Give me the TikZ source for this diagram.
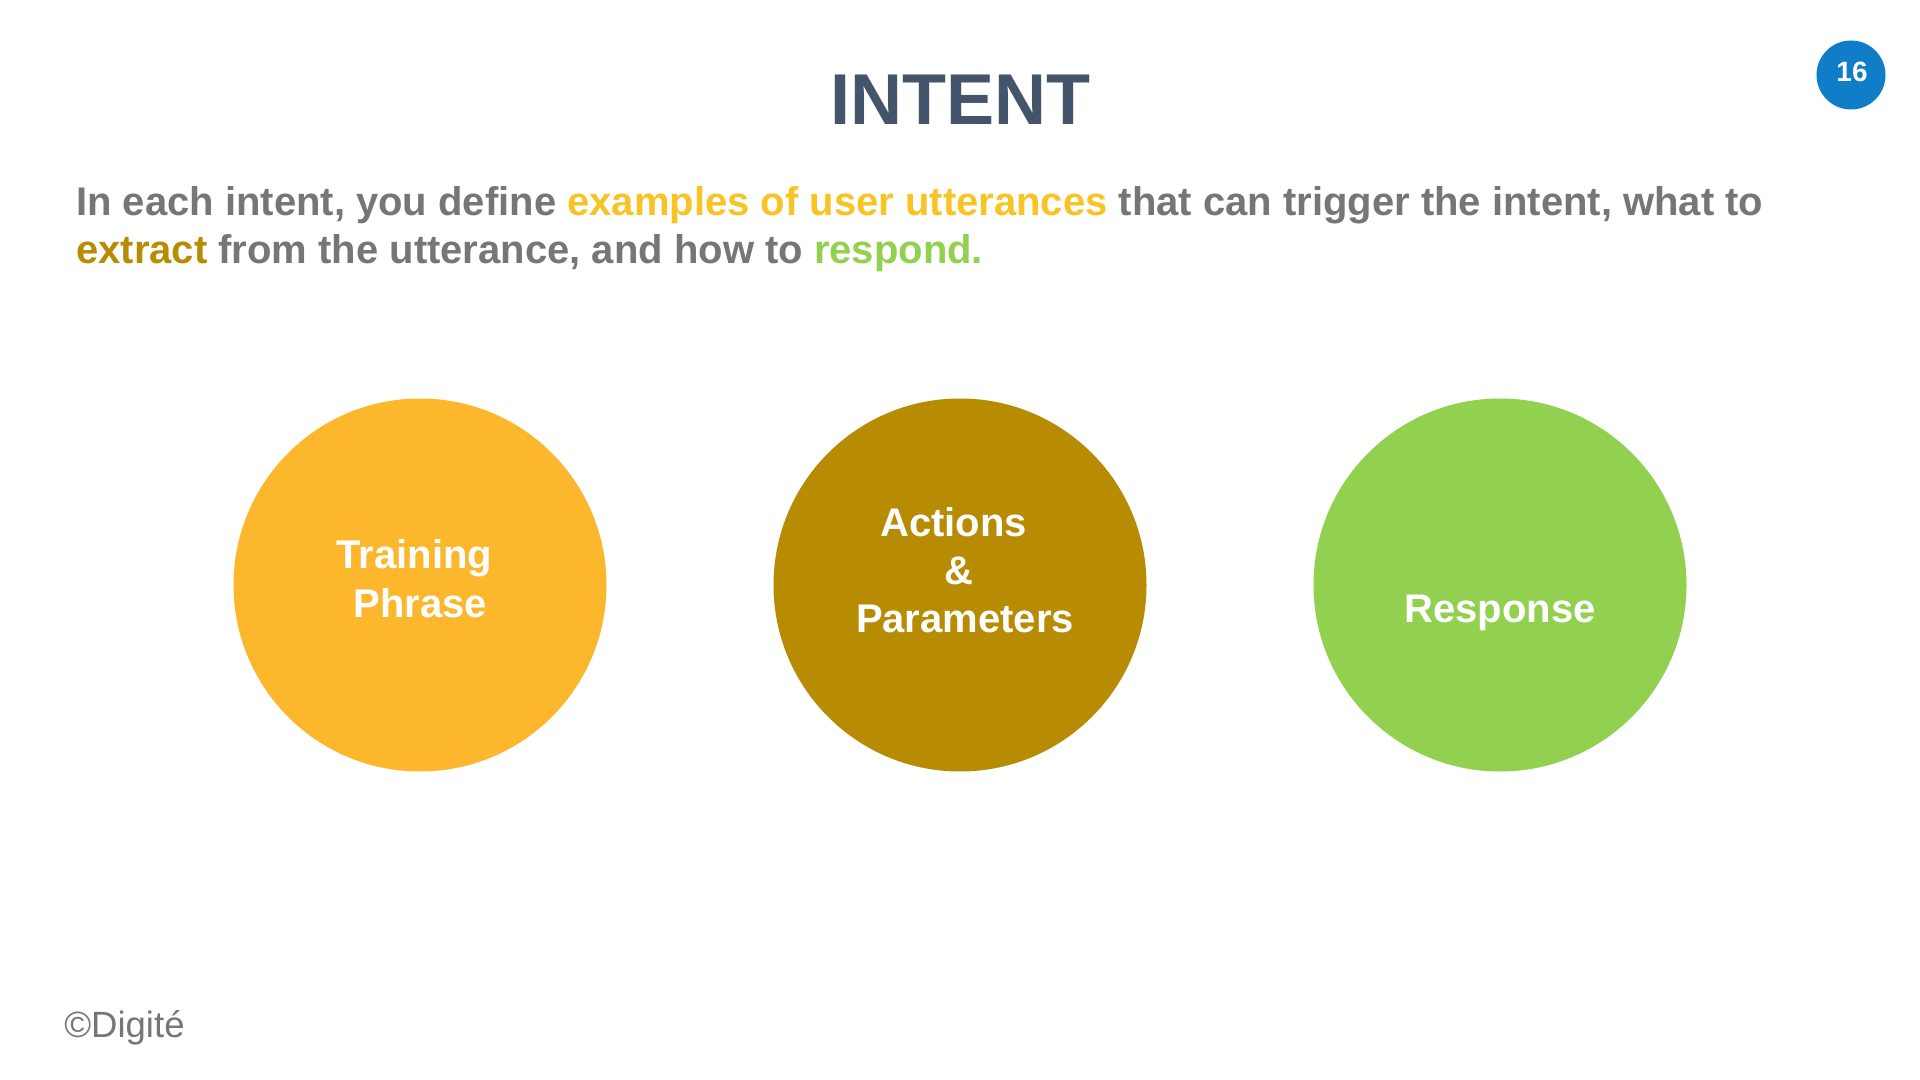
\documentclass[tikz,border=0pt]{standalone}
\usepackage{fontspec}
\setmainfont{Liberation Sans}
\definecolor{titlec}{HTML}{44546A}
\definecolor{greyt}{HTML}{767676}
\definecolor{yellowt}{HTML}{F7C325}
\definecolor{oranget}{HTML}{FDB72D}
\definecolor{brownc}{HTML}{B78B02}
\definecolor{greenc}{HTML}{92D050}
\definecolor{badge}{HTML}{0F7DC8}
\tikzset{x=0.75pt,y=-0.75pt,
  bigc/.style={circle,inner sep=0pt,minimum size=373pt*0.75},
  clab/.style={text=white,font=\fontsize{30}{36}\selectfont\bfseries,align=center,inner sep=0pt,anchor=center},
  bodyl/.style={anchor=base west,inner sep=0pt,font=\fontsize{30}{36}\selectfont\bfseries,text=greyt}
}
\begin{document}
\begin{tikzpicture}
\useasboundingbox (0,0) rectangle (1920,1080);
\fill[white] (0,0) rectangle (1920,1080);
\node[anchor=center,inner sep=0pt,text=titlec,font=\fontsize{54}{60}\selectfont\bfseries] (title) at (960,100) {INTENT};
\node[bodyl] (l1) at (76,215.5) {In each intent, you define \textcolor{yellowt}{examples of user utterances} that can trigger the intent, what to};
\node[bodyl] (l2) at (76,263.5) {\textcolor{brownc}{extract} from the utterance, and how to \textcolor{greenc}{respond.}};
\node[bigc,fill=oranget] (c1) at (420,585) {};
\node[bigc,fill=brownc] (c2) at (960,585) {};
\node[bigc,fill=greenc] (c3) at (1500,585) {};
\node[clab] (t1a) at (414.5,558.5) {Training};
\node[clab] (t1b) at (420.5,603) {Phrase};
\node[clab] (t2a) at (953.5,522) {Actions};
\node[clab] (t2b) at (959,570.5) {\&};
\node[clab] (t2c) at (965,619) {Parameters};
\node[clab] (t3) at (1500,613) {Response};
\node[circle,fill=badge,inner sep=0pt,minimum size=69pt*0.75] (b) at (1851,75) {};
\node[text=white,font=\fontsize{21}{25}\selectfont\bfseries,inner sep=0pt] (bt) at (1852,72) {16};
\node[anchor=base west,inner sep=0pt,text=greyt,font=\fontsize{27.4}{32}\selectfont] (cp) at (64,1037) {©Digité};
\end{tikzpicture}
\end{document}
